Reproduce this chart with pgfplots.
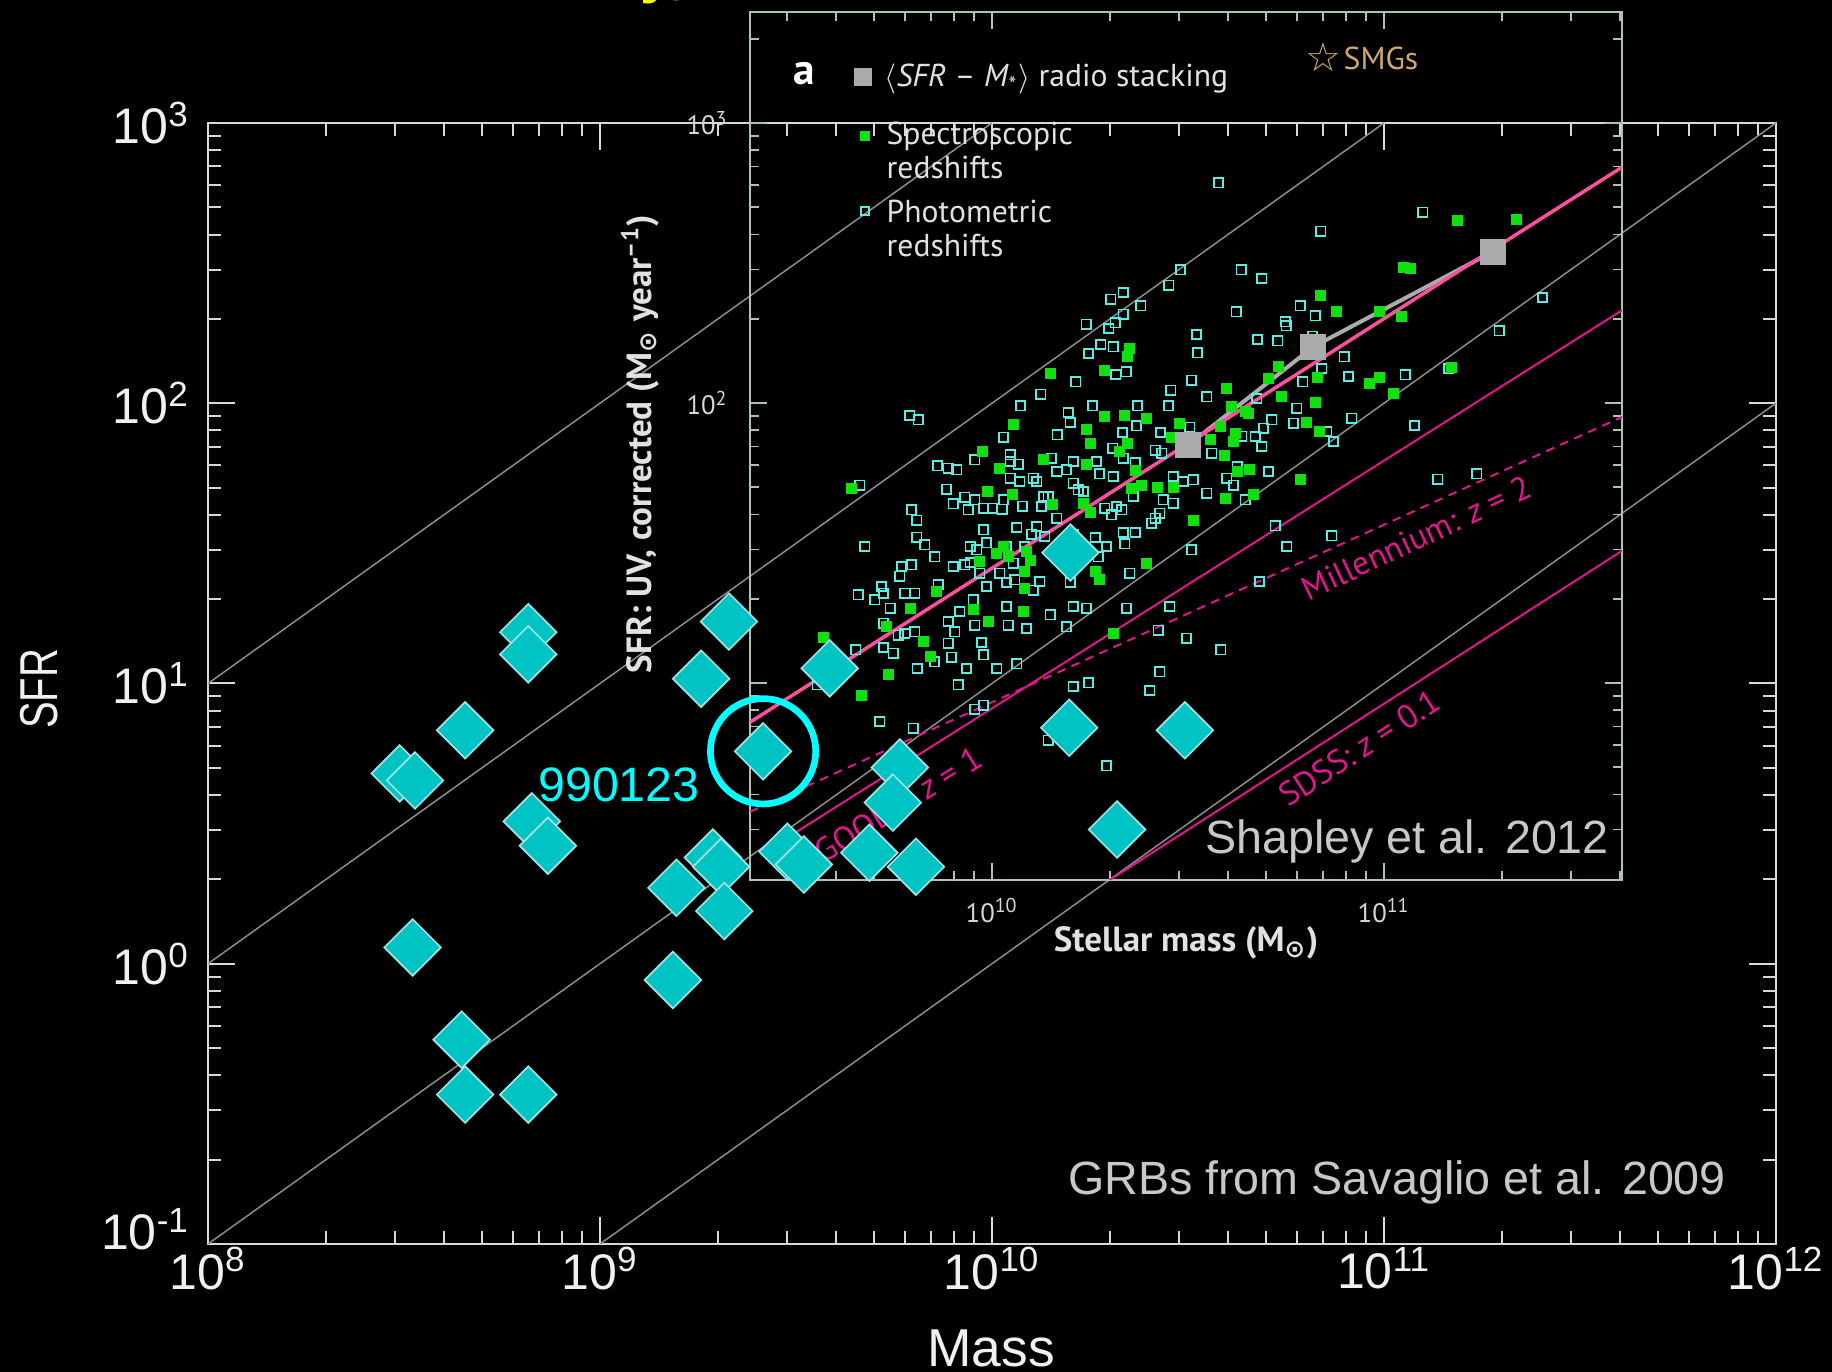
\documentclass[border=0pt]{standalone}
\usepackage{fontspec}
\setmainfont{Liberation Sans}
\newfontfamily\pts{PT Sans}
\newfontfamily\djv{DejaVu Sans}
\usepackage{pgfplots}
\usepackage{pgfplotstable}
\pgfplotsset{compat=1.18}

\definecolor{axgray}{HTML}{D8D8D8}
\definecolor{lblgray}{HTML}{F0F0F0}
\definecolor{ssfr}{HTML}{8C8C8C}
\definecolor{mint}{HTML}{A8C4B4}
\definecolor{mintlbl}{HTML}{D0DCD4}
\definecolor{photcyan}{HTML}{5CEDE2}
\definecolor{specgreen}{HTML}{10E010}
\definecolor{fitpink}{HTML}{FF4F9F}
\definecolor{magline}{HTML}{E0178C}
\definecolor{stackgray}{HTML}{ABABAB}
\definecolor{grbcyan}{HTML}{00C4C4}
\definecolor{grbedge}{HTML}{9FE4E4}
\definecolor{smgtan}{HTML}{D2A86A}
\definecolor{txtgray}{HTML}{C8C8C8}
\definecolor{legtxt}{HTML}{E4E0E0}
\definecolor{ringcyan}{RGB}{0,255,255}
\definecolor{titleyellow}{RGB}{255,255,0}

% full-image pixel -> picture point (1 px = 0.3pt, image 1832x1372)
\newcommand\px[2]{({(#1)*0.3pt},{(1372-(#2))*0.3pt})}

% all values are log10(M/Msun), log10(SFR)
\pgfplotstableread{
lm ls
10.481 2.475
10.451 2.421
10.335 2.394
10.303 2.371
10.380 2.347
10.335 2.317
10.314 2.286
10.240 2.282
10.298 2.266
10.278 2.209
10.309 2.201
10.246 2.177
10.214 2.076
10.125 2.032
10.316 2.102
10.342 2.111
10.456 2.046
10.509 2.082
10.522 2.245
10.524 2.179
10.578 2.786
11.099 2.681
10.839 2.614
10.636 2.475
10.688 2.444
10.623 2.326
10.786 2.347
10.824 2.311
10.748 2.290
10.750 2.275
10.677 2.227
10.729 2.222
10.818 2.239
10.898 2.165
10.841 2.123
10.909 2.094
10.793 2.076
11.054 2.100
11.165 2.123
11.404 2.377
11.294 2.258
10.548 2.022
10.676 2.016
10.073 1.990
10.256 1.990
10.371 1.990
10.450 1.990
10.194 1.966
10.199 1.930
9.790 1.955
9.812 1.940
10.029 1.878
10.166 1.886
10.333 1.894
10.369 1.918
10.430 1.894
10.505 1.913
10.046 1.815
10.046 1.791
10.067 1.782
9.956 1.797
9.861 1.775
9.888 1.767
9.910 1.761
10.152 1.803
10.207 1.791
10.267 1.791
10.308 1.838
10.335 1.803
10.365 1.787
10.416 1.832
10.433 1.821
10.046 1.731
10.071 1.719
10.105 1.731
10.114 1.719
10.165 1.755
10.190 1.761
10.207 1.713
10.220 1.690
10.233 1.684
10.274 1.747
10.309 1.737
10.360 1.696
10.462 1.737
10.488 1.719
10.513 1.725
9.663 1.707
9.884 1.692
9.931 1.663
9.956 1.654
9.901 1.640
9.939 1.618
9.978 1.624
10.001 1.624
10.026 1.621
10.029 1.654
10.078 1.632
10.131 1.666
10.143 1.666
10.165 1.588
10.126 1.630
10.288 1.624
10.318 1.630
10.331 1.618
10.305 1.600
10.360 1.666
10.428 1.606
10.437 1.654
10.462 1.642
10.407 1.571
10.416 1.588
9.795 1.618
9.808 1.582
9.978 1.547
10.063 1.555
10.114 1.559
10.101 1.532
10.135 1.523
10.207 1.529
10.263 1.519
10.335 1.537
10.365 1.537
10.339 1.497
9.808 1.521
9.829 1.493
9.854 1.451
9.676 1.487
9.944 1.487
9.961 1.475
9.986 1.501
10.037 1.487
10.084 1.487
10.292 1.487
10.271 1.451
10.509 1.475
9.769 1.416
9.795 1.422
9.765 1.382
9.901 1.416
9.931 1.422
9.944 1.430
9.969 1.392
10.020 1.392
10.054 1.428
10.122 1.362
10.199 1.359
10.352 1.392
9.718 1.344
9.723 1.321
9.701 1.297
9.659 1.315
9.740 1.267
9.778 1.321
9.803 1.321
9.863 1.350
9.986 1.344
10.037 1.359
10.058 1.368
10.105 1.332
9.952 1.297
9.918 1.255
10.037 1.273
10.148 1.243
10.207 1.273
10.241 1.267
10.343 1.267
10.454 1.273
10.778 1.981
10.714 1.940
10.769 1.928
10.693 1.910
10.671 1.880
10.688 1.844
10.637 1.882
10.561 1.821
10.625 1.773
10.599 1.731
10.616 1.707
10.548 1.678
10.705 1.755
10.646 1.654
10.854 1.898
10.871 1.862
10.918 1.946
11.078 1.919
11.137 1.728
11.237 1.747
10.722 1.561
10.752 1.487
10.867 1.525
10.682 1.362
9.723 1.213
9.803 1.183
9.761 1.171
9.778 1.177
9.888 1.219
9.905 1.183
9.956 1.207
10.041 1.207
10.088 1.195
10.190 1.201
9.653 1.118
9.723 1.127
9.748 1.106
9.888 1.142
9.973 1.144
9.978 1.100
9.897 1.092
9.809 1.052
9.853 1.076
9.935 1.052
10.012 1.052
10.063 1.068
9.914 0.993
9.956 0.906
9.978 0.921
9.714 0.862
9.799 0.838
10.207 0.987
10.246 1.001
10.143 0.796
10.292 0.704
10.428 1.040
10.403 0.973
10.424 1.189
10.496 1.160
10.584 1.118
9.554 0.993
}\phot

\pgfplotstableread{
lm ls
10.149 2.106
10.286 2.117
10.350 2.195
10.345 2.165
11.188 2.653
11.337 2.657
11.050 2.484
11.067 2.480
10.839 2.385
10.878 2.326
10.988 2.328
11.045 2.310
10.731 2.132
10.705 2.088
10.830 2.090
10.963 2.070
10.988 2.090
10.599 2.052
11.173 2.127
11.024 2.034
10.739 2.022
9.642 1.696
10.056 1.922
10.288 1.951
10.339 1.957
10.393 1.946
10.479 1.928
10.240 1.906
10.251 1.856
10.458 1.878
10.345 1.856
10.325 1.826
9.976 1.826
10.020 1.767
10.131 1.797
10.240 1.779
10.365 1.759
10.382 1.704
10.422 1.699
10.462 1.699
10.356 1.696
9.988 1.684
10.052 1.672
10.154 1.636
10.233 1.642
10.251 1.609
10.513 1.582
10.029 1.487
10.012 1.463
10.041 1.451
9.969 1.434
10.088 1.469
10.097 1.436
10.084 1.398
10.393 1.428
10.263 1.398
10.275 1.368
10.084 1.338
9.859 1.326
9.791 1.267
9.952 1.261
10.080 1.255
10.612 1.987
10.646 1.969
10.654 1.963
10.582 1.916
10.620 1.892
10.557 1.868
10.616 1.862
10.803 1.930
10.835 1.898
10.592 1.811
10.625 1.755
10.657 1.761
10.788 1.725
10.595 1.660
10.667 1.672
10.824 2.001
9.731 1.201
9.825 1.148
9.842 1.096
9.735 1.032
9.667 0.957
9.990 1.219
10.309 1.177
9.571 1.164
}\spec

\pgfplotstableread{
lm ls
10.501 1.850
10.820 2.201
11.277 2.540
}\stack

\pgfplotstableread{
lm ls
8.817 1.183
8.817 1.104
8.656 0.833
8.489 0.679
8.528 0.654
8.826 0.508
8.867 0.421
8.522 0.058
8.647 -0.271
8.656 -0.467
8.817 -0.467
9.195 0.271
9.186 -0.058
9.288 0.379
9.309 0.346
9.317 0.188
9.258 1.017
9.329 1.221
9.416 0.758
9.478 0.400
9.520 0.354
9.586 1.054
9.687 0.396
9.806 0.346
9.765 0.700
9.747 0.575
10.200 1.467
10.197 0.842
10.492 0.833
10.319 0.479
}\grb

\begin{document}
\begin{tikzpicture}
\fill[black] (0,0) rectangle (549.6pt,411.6pt);

% ---------- main axis: GRB hosts ----------
\begin{axis}[
  at={(62.4pt,38.4pt)}, anchor=south west,
  scale only axis, width=470.4pt, height=336.3pt,
  xmin=8, xmax=12, ymin=-1, ymax=3,
  axis line style={axgray, line width=0.7pt},
  tick style={axgray, line width=0.6pt},
  tick align=inside,
  major tick length=8pt, minor tick length=4pt,
  xtick={8,9,10,11,12},
  xticklabels={10\textsuperscript{8},10\textsuperscript{9},10\textsuperscript{10},10\textsuperscript{11},10\textsuperscript{12}},
  ytick={-1,0,1,2,3},
  yticklabels={\raisebox{9pt}{10\textsuperscript{-1}},10\textsuperscript{0},10\textsuperscript{1},10\textsuperscript{2},10\textsuperscript{3}},
  minor xtick={8.301,8.477,8.602,8.699,8.778,8.845,8.903,8.954,9.301,9.477,9.602,9.699,9.778,9.845,9.903,9.954,10.301,10.477,10.602,10.699,10.778,10.845,10.903,10.954,11.301,11.477,11.602,11.699,11.778,11.845,11.903,11.954},
  minor ytick={-0.699,-0.523,-0.398,-0.301,-0.222,-0.155,-0.097,-0.046,0.301,0.477,0.602,0.699,0.778,0.845,0.903,0.954,1.301,1.477,1.602,1.699,1.778,1.845,1.903,1.954,2.301,2.477,2.602,2.699,2.778,2.845,2.903,2.954},
  ticklabel style={font=\fontsize{15}{17}\selectfont, text=lblgray},
  yticklabel style={xshift=-2pt},
  xticklabel style={yshift=2.5pt},
]
% lines of constant specific SFR
\addplot[ssfr, line width=0.45pt] coordinates {(8,1) (10,3)};
\addplot[ssfr, line width=0.45pt] coordinates {(8,0) (11,3)};
\addplot[ssfr, line width=0.45pt] coordinates {(8,-1) (12,3)};
\addplot[ssfr, line width=0.45pt] coordinates {(9,-1) (12,2)};
\end{axis}

% ---------- inset: Shapley et al. 2012 ----------
\begin{axis}[
  at={(225pt,147.6pt)}, anchor=south west,
  scale only axis, width=261.6pt, height=260.4pt,
  xmin=9.3827, xmax=11.6071, ymin=0.2964, ymax=3.3964,
  axis line style={mint, line width=0.6pt},
  tick style={mint, line width=0.5pt},
  tick align=inside,
  major tick length=5pt, minor tick length=2.6pt,
  xtick={10,11}, xticklabels={10\textsuperscript{10},10\textsuperscript{11}},
  ytick={1,2,3}, yticklabels={10\textsuperscript{1},10\textsuperscript{2},10\textsuperscript{3}},
  minor xtick={9.477,9.602,9.699,9.778,9.845,9.903,9.954,10.301,10.477,10.602,10.699,10.778,10.845,10.903,10.954,11.301,11.477,11.602},
  minor ytick={0.477,0.602,0.699,0.778,0.845,0.903,0.954,1.301,1.477,1.602,1.699,1.778,1.845,1.903,1.954,2.301,2.477,2.602,2.699,2.778,2.845,2.903,2.954,3.301},
  ticklabel style={font=\pts\fontsize{8}{9}\selectfont, text=mintlbl},
  xticklabel style={yshift=-2pt},
  yticklabel style={xshift=-3pt},
]
\addplot[only marks, mark=square, mark size=1.4pt, mark options={draw=photcyan, line width=0.5pt}] table[x=lm, y=ls] {\phot};
\addplot[only marks, mark=square*, mark size=1.45pt, mark options={draw=specgreen, fill=specgreen}] table[x=lm, y=ls] {\spec};
\addplot[magline, line width=0.6pt, dash pattern=on 2.6pt off 2pt] coordinates {(9.383,0.540) (11.607,1.950)};
\addplot[magline, line width=0.6pt] coordinates {(9.50,0.467) (11.607,2.331)};
\addplot[magline, line width=0.6pt] coordinates {(10.30,0.296) (11.607,1.472)};
\addplot[stackgray, line width=1.2pt, mark=square*, mark size=3.3pt, mark options={fill=stackgray, draw=stackgray}] table[x=lm, y=ls] {\stack};
\addplot[fitpink, line width=1.05pt] coordinates {(9.383,0.860) (11.607,2.842)};
\end{axis}

% inset labels and legend
\node[rotate=90, font=\pts\bfseries\fontsize{10.5}{12}\selectfont, text=legtxt] at \px{640}{444} {SFR: UV, corrected (M\textsubscript{\djv ⊙} year\textsuperscript{–1})};
\node[font=\pts\bfseries\fontsize{10.5}{12}\selectfont, text=legtxt] at \px{1186}{943} {Stellar mass (M\textsubscript{\djv ⊙})};
\node[font=\pts\bfseries\fontsize{13}{15}\selectfont, text=white] at \px{804}{74} {a};
\fill[stackgray] \px{854}{68} rectangle \px{872}{86};
\node[anchor=west, font=\pts\fontsize{9.5}{11}\selectfont, text=legtxt, inner sep=0pt] at \px{884}{79} {$\langle$\textit{SFR} – \textit{M}\textsubscript{*}$\rangle$ radio stacking};
\node[font=\djv\fontsize{12}{14}\selectfont, text=smgtan, inner sep=0pt] at \px{1323}{57} {☆};
\node[anchor=west, font=\pts\fontsize{9.5}{11}\selectfont, text=smgtan, inner sep=0pt] at \px{1343}{58} {SMGs};
\fill[specgreen] \px{860}{131} rectangle \px{870}{141};
\node[anchor=north west, align=left, font=\pts\fontsize{9.5}{10.2}\selectfont, text=legtxt, inner sep=0pt] at \px{886}{121} {Spectroscopic\\redshifts};
\draw[photcyan, line width=0.5pt] \px{861}{207} rectangle \px{869}{215};
\node[anchor=north west, align=left, font=\pts\fontsize{9.5}{10.2}\selectfont, text=legtxt, inner sep=0pt] at \px{886}{199} {Photometric\\redshifts};
\node[rotate=32, font=\pts\fontsize{10}{12}\selectfont, text=magline] at \px{898}{805} {GOODS: \textit{z} = 1};
\node[rotate=25, font=\pts\fontsize{10}{12}\selectfont, text=magline] at \px{1416}{538} {Millennium: \textit{z} = 2};
\node[rotate=33, font=\pts\fontsize{10}{12}\selectfont, text=magline] at \px{1359}{748} {SDSS: \textit{z} = 0.1};

% ---------- overlay: GRB host diamonds ----------
\begin{axis}[
  at={(62.4pt,38.4pt)}, anchor=south west,
  scale only axis, width=470.4pt, height=336.3pt,
  xmin=8, xmax=12, ymin=-1, ymax=3,
  hide axis, clip=false,
]
\addplot[only marks, mark=square*, mark size=6pt, mark options={rotate=45, fill=grbcyan, draw=grbedge, line width=0.5pt}] table[x=lm, y=ls] {\grb};
\addplot[only marks, mark=o, mark size=15.8pt, mark options={draw=ringcyan, line width=2pt}] coordinates {(9.416,0.758)};
\end{axis}

\node[font=\fontsize{14.5}{17}\selectfont, text=ringcyan] at \px{619}{785} {990123};
\node[font=\fontsize{14}{16}\selectfont, text=txtgray] at \px{1407}{841} {Shapley et al. 2012};
\node[font=\fontsize{14}{16}\selectfont, text=txtgray] at \px{1397}{1182} {GRBs from Savaglio et al. 2009};
\node[font=\fontsize{16}{18}\selectfont, text=lblgray] at \px{991}{1348} {Mass};
\node[rotate=90, font=\fontsize{16}{18}\selectfont, text=lblgray] at \px{39}{689} {\scalebox{0.75}[1]{SFR}};
\node[anchor=base west, inner sep=0pt, font=\bfseries\fontsize{18}{22}\selectfont, text=titleyellow] at \px{640}{-8} {y,};
\node[anchor=base west, inner sep=0pt, font=\bfseries\fontsize{18}{22}\selectfont, text=titleyellow] at \px{898}{-10} {,};

\pgfresetboundingbox
\useasboundingbox (0,0) rectangle (549.6pt,411.6pt);
\end{tikzpicture}
\end{document}
